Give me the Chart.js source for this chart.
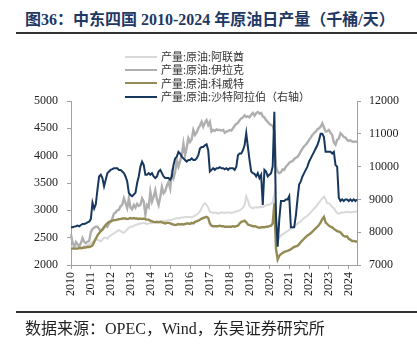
<!DOCTYPE html>
<html lang="zh-CN">
<head>
<meta charset="utf-8">
<title>中东四国原油日产量</title>
<script src="https://cdn.jsdelivr.net/npm/chart.js@4.4.1/dist/chart.umd.min.js"></script>
<style>
  html, body { margin: 0; padding: 0; background: #fff; }
  #page { position: relative; width: 417px; height: 351px; overflow: hidden; background: #fff; }
  #chart { position: absolute; left: 0; top: 0; }
  .title {
    position: absolute; left: 25px; top: 9px; white-space: nowrap;
    font: bold 16px/22px 'Liberation Serif', 'Noto Sans CJK SC', serif; color: #1f3864;
  }
  .rule { position: absolute; left: 16px; right: 0; height: 2px; background: #333; }
  .legend {
    position: absolute; left: 125px; top: 50px;
    font: 11px/13.3px 'Noto Sans CJK SC', sans-serif; color: #333;
  }
  .legend-item { display: flex; align-items: center; height: 13.3px; white-space: nowrap; }
  .legend-line { width: 32px; height: 2px; margin-right: 4px; }
  .source {
    position: absolute; left: 25px; top: 320px; white-space: nowrap;
    font: 16px/18px 'Liberation Serif', 'Noto Sans CJK SC', serif; color: #222;
  }
</style>
</head>
<body>
<div id="page">
  <div class="title">图36：中东四国 2010-2024 年原油日产量（千桶/天）</div>
  <div class="rule" style="top:32px"></div>
  <canvas id="chart" width="417" height="351"></canvas>
  <div class="legend" id="legend"></div>
  <div class="rule" style="top:311px"></div>
  <div class="source">数据来源：OPEC，Wind，东吴证券研究所</div>
</div>
<script>
// monthly, Jan 2010 .. Jun 2024
const years = [2010, 2011, 2012, 2013, 2014, 2015, 2016, 2017, 2018, 2019, 2020, 2021, 2022, 2023, 2024];
const monthsInLastYear = 6;

const seriesNames = [
  '产量:原油:阿联酋',
  '产量:原油:伊拉克',
  '产量:原油:科威特',
  '产量:原油:沙特阿拉伯（右轴）'
];

const uae = [
  2350, 2320, 2300, 2330, 2350, 2340, 2300, 2320, 2350, 2330, 2360, 2380,
  2400, 2420, 2450, 2480, 2460, 2450, 2430, 2470, 2500, 2500, 2480, 2520,
  2540, 2560, 2580, 2600, 2620, 2640, 2620, 2600, 2590, 2620, 2650, 2680,
  2700, 2700, 2720, 2730, 2740, 2750, 2760, 2760, 2770, 2760, 2750, 2760,
  2770, 2760, 2780, 2790, 2780, 2790, 2790, 2800, 2810, 2800, 2810, 2820,
  2820, 2830, 2840, 2850, 2860, 2850, 2860, 2870, 2870, 2880, 2880, 2880,
  2880, 2870, 2890, 2900, 2920, 2940, 2980, 3040, 3100, 3130, 3100, 3050,
  2970, 2960, 2950, 2960, 2950, 2940, 2950, 2960, 2960, 2950, 2960, 2960,
  2960, 2950, 2960, 2970, 2980, 2990, 3000, 3020, 3050, 3100, 3260, 3180,
  3080, 3050, 3040, 3050, 3060, 3050, 3060, 3070, 3060, 3080, 3090, 3100,
  3100, 3120, 3150, 3300, 2600, 2450, 2500, 2540, 2560, 2580, 2600, 2620,
  2640, 2660, 2680, 2700, 2730, 2760, 2780, 2800, 2830, 2860, 2880, 2900,
  2930, 2960, 3000, 3030, 3060, 3100, 3140, 3180, 3220, 3250, 3200, 3130,
  3130, 3100, 3060, 3040, 2990, 2950, 2940, 2950, 2960, 2960, 2970, 2970,
  2970, 2960, 2970, 2970, 2980, 2980
];

const iraq = [
  2560, 2400, 2340, 2420, 2380, 2340, 2400, 2490, 2420, 2400, 2430, 2440,
  2600, 2660, 2680, 2700, 2700, 2660, 2620, 2640, 2690, 2730, 2700, 2760,
  2790, 2850, 2940, 2960, 3000, 3010, 3080, 3100, 3220, 3130, 3040, 3220,
  3050, 3020, 3100, 3050, 3120, 3080, 3100, 3220, 3160, 2920, 3100, 3060,
  3340, 3160, 3250, 3370, 3200, 3100, 3250, 3430, 3310, 3350, 3450, 3520,
  3400, 3680, 3590, 3700, 3920, 3800, 3900, 4010, 4220, 4010, 4150, 4320,
  4250, 4300, 4470, 4380, 4420, 4500, 4550, 4620, 4530, 4600, 4650, 4560,
  4620, 4440, 4470, 4450, 4480, 4470, 4470, 4460, 4470, 4420, 4440, 4450,
  4470, 4460, 4500, 4550, 4580, 4600, 4650, 4680, 4700, 4740, 4710, 4720,
  4700, 4750, 4780, 4730, 4780, 4800, 4770, 4780, 4720, 4700, 4650, 4620,
  4580, 4560, 4550, 4450, 3800, 3700, 3680, 3700, 3750, 3740, 3800, 3830,
  3870, 3890, 3900, 3940, 3960, 3980, 4020, 4080, 4130, 4170, 4200, 4240,
  4290, 4330, 4380, 4410, 4440, 4480, 4500, 4530, 4590, 4520, 4440, 4450,
  4470, 4420, 4380, 4240, 4200, 4290, 4310, 4410, 4380, 4340, 4330, 4290,
  4270, 4280, 4260, 4250, 4260, 4250
];

const kuwait = [
  2300, 2300, 2300, 2300, 2300, 2310, 2310, 2310, 2320, 2320, 2330, 2330,
  2340, 2360, 2420, 2480, 2540, 2580, 2620, 2650, 2690, 2730, 2760, 2790,
  2800, 2810, 2820, 2820, 2830, 2840, 2840, 2850, 2850, 2850, 2840, 2850,
  2860, 2850, 2860, 2850, 2850, 2840, 2850, 2840, 2850, 2840, 2830, 2830,
  2810, 2800, 2790, 2780, 2790, 2780, 2790, 2780, 2770, 2760, 2770, 2770,
  2760, 2750, 2740, 2730, 2740, 2750, 2740, 2750, 2740, 2750, 2760, 2760,
  2750, 2770, 2760, 2790, 2800, 2810, 2830, 2850, 2860, 2870, 2880, 2860,
  2760, 2720, 2710, 2710, 2710, 2710, 2720, 2710, 2710, 2700, 2700, 2700,
  2700, 2700, 2710, 2700, 2710, 2720, 2760, 2790, 2800, 2810, 2780, 2740,
  2730, 2720, 2710, 2710, 2700, 2690, 2680, 2690, 2690, 2690, 2700, 2700,
  2710, 2720, 2760, 3130, 2300, 2100, 2170, 2200, 2220, 2240, 2250, 2260,
  2270, 2290, 2310, 2330, 2340, 2350, 2380, 2420, 2450, 2480, 2510, 2540,
  2560, 2580, 2610, 2640, 2670, 2700, 2730, 2780, 2840, 2880, 2780, 2750,
  2720, 2700, 2690, 2660, 2640, 2620, 2610, 2600, 2560, 2530, 2520, 2520,
  2480, 2460, 2440, 2440, 2430, 2430
];

const saudi = [
  8150, 8150, 8170, 8180, 8200, 8180, 8220, 8250, 8250, 8270, 8300, 8320,
  8400, 8900, 8720, 8850, 9300, 9700, 9750, 9650, 9400, 9600, 9800, 9850,
  9900, 9920, 9950, 9950, 9950, 9900, 9900, 9850, 9800, 9700, 9550, 9200,
  9130, 9100, 9150, 9200, 9500, 9700, 10000, 10150, 10050, 9750, 9750, 9800,
  9750, 9800, 9700, 9650, 9700, 9850, 9900, 9800, 9700, 9650, 9650, 9650,
  9600, 9700, 10050, 10250, 10300, 10450, 10400, 10300, 10250, 10200, 10150, 10200,
  10200, 10250, 10200, 10200, 10250, 10350, 10550, 10600, 10600, 10650, 10680, 10500,
  9850, 9900, 9950, 9900, 9950, 9950, 9980, 9950, 9950, 9920, 9950, 9900,
  9950, 9950, 9950, 9900, 10000, 10350, 10400, 10400, 10500, 10650, 11020, 10600,
  10200, 9850, 9800, 9780, 9700, 9800, 9650, 9750, 8830, 9900, 9850, 9700,
  9750, 9800, 10000, 11670, 8500, 7560, 8400, 8950, 8950, 8950, 9000, 9000,
  9100, 8150, 8150, 8150, 8500, 9000, 9450, 9550, 9700, 9800, 9900, 10000,
  10150, 10250, 10350, 10450, 10550, 10650, 10800, 11000, 11000, 10900, 10450, 10450,
  10450, 10450, 10400, 10450, 10050, 10000, 9050, 8950, 9000, 8950, 9000, 9000,
  8950, 9000, 8950, 9000, 8950, 9000
];

const leftTicks = { min: 2000, max: 5000, step: 500 };
const rightTicks = { min: 7000, max: 12000, step: 1000 };

const axisColor = '#a0a0a0';
const tickFont = { family: "'Liberation Serif', 'Times New Roman', serif", size: 12 };

const monthLabels = years.flatMap((year, i) => {
  const count = i === years.length - 1 ? monthsInLastYear : 12;
  return Array.from({ length: count }, (_, m) => `${year}-${String(m + 1).padStart(2, '0')}`);
});

function isYearStart(index) {
  return index % 12 === 0;
}

function yearTickColor(ctx) {
  return isYearStart(ctx.index) ? axisColor : 'rgba(0,0,0,0)';
}

function plainNumber(value) {
  return String(value);
}

function makeLine(label, data, color, width, axis, order) {
  return {
    label,
    data,
    borderColor: color,
    backgroundColor: color,
    borderWidth: width,
    pointRadius: 0,
    tension: 0,
    yAxisID: axis,
    order,
  };
}

const datasets = [
  makeLine(seriesNames[0], uae, '#d9d9d9', 2, 'y', 4),
  makeLine(seriesNames[1], iraq, '#afafaf', 2.4, 'y', 3),
  makeLine(seriesNames[2], kuwait, '#948a54', 2.4, 'y', 2),
  makeLine(seriesNames[3], saudi, '#17375e', 2, 'y1', 1),
];

const chart = new Chart(document.getElementById('chart'), {
  type: 'line',
  data: { labels: monthLabels, datasets },
  options: {
    responsive: false,
    animation: false,
    layout: { padding: { top: 101, left: 0, right: 0, bottom: 0 } },
    plugins: {
      legend: { display: false },
      tooltip: { enabled: false },
    },
    scales: {
      x: {
        type: 'category',
        afterFit(scale) { scale.height = 86; },
        border: { display: true, color: axisColor, width: 1 },
        grid: {
          drawOnChartArea: false,
          drawTicks: true,
          tickLength: 4,
          color: yearTickColor,
        },
        ticks: {
          autoSkip: false,
          minRotation: 90,
          maxRotation: 90,
          padding: 3,
          color: '#222',
          font: tickFont,
          callback(value, index) {
            return isYearStart(index) ? String(years[index / 12]) : '';
          },
        },
      },
      y: {
        position: 'left',
        min: leftTicks.min,
        max: leftTicks.max,
        afterFit(scale) { scale.width = 71; },
        border: { display: true, color: axisColor, width: 1 },
        grid: { drawOnChartArea: false, tickLength: 4, color: axisColor },
        ticks: { stepSize: leftTicks.step, padding: 9, color: '#222', font: tickFont, callback: plainNumber },
      },
      y1: {
        position: 'right',
        min: rightTicks.min,
        max: rightTicks.max,
        afterFit(scale) { scale.width = 60; },
        border: { display: true, color: axisColor, width: 1 },
        grid: { drawOnChartArea: false, tickLength: 4, color: axisColor },
        ticks: { stepSize: rightTicks.step, padding: 8, color: '#222', font: tickFont, callback: plainNumber },
      },
    },
  },
});

// legend as html, one row per series, same order as the source
const legendBox = document.getElementById('legend');
chart.data.datasets.forEach((ds) => {
  const row = document.createElement('div');
  row.className = 'legend-item';
  const swatch = document.createElement('span');
  swatch.className = 'legend-line';
  swatch.style.background = ds.borderColor;
  const text = document.createElement('span');
  text.textContent = ds.label;
  row.appendChild(swatch);
  row.appendChild(text);
  legendBox.appendChild(row);
});
</script>
</body>
</html>
